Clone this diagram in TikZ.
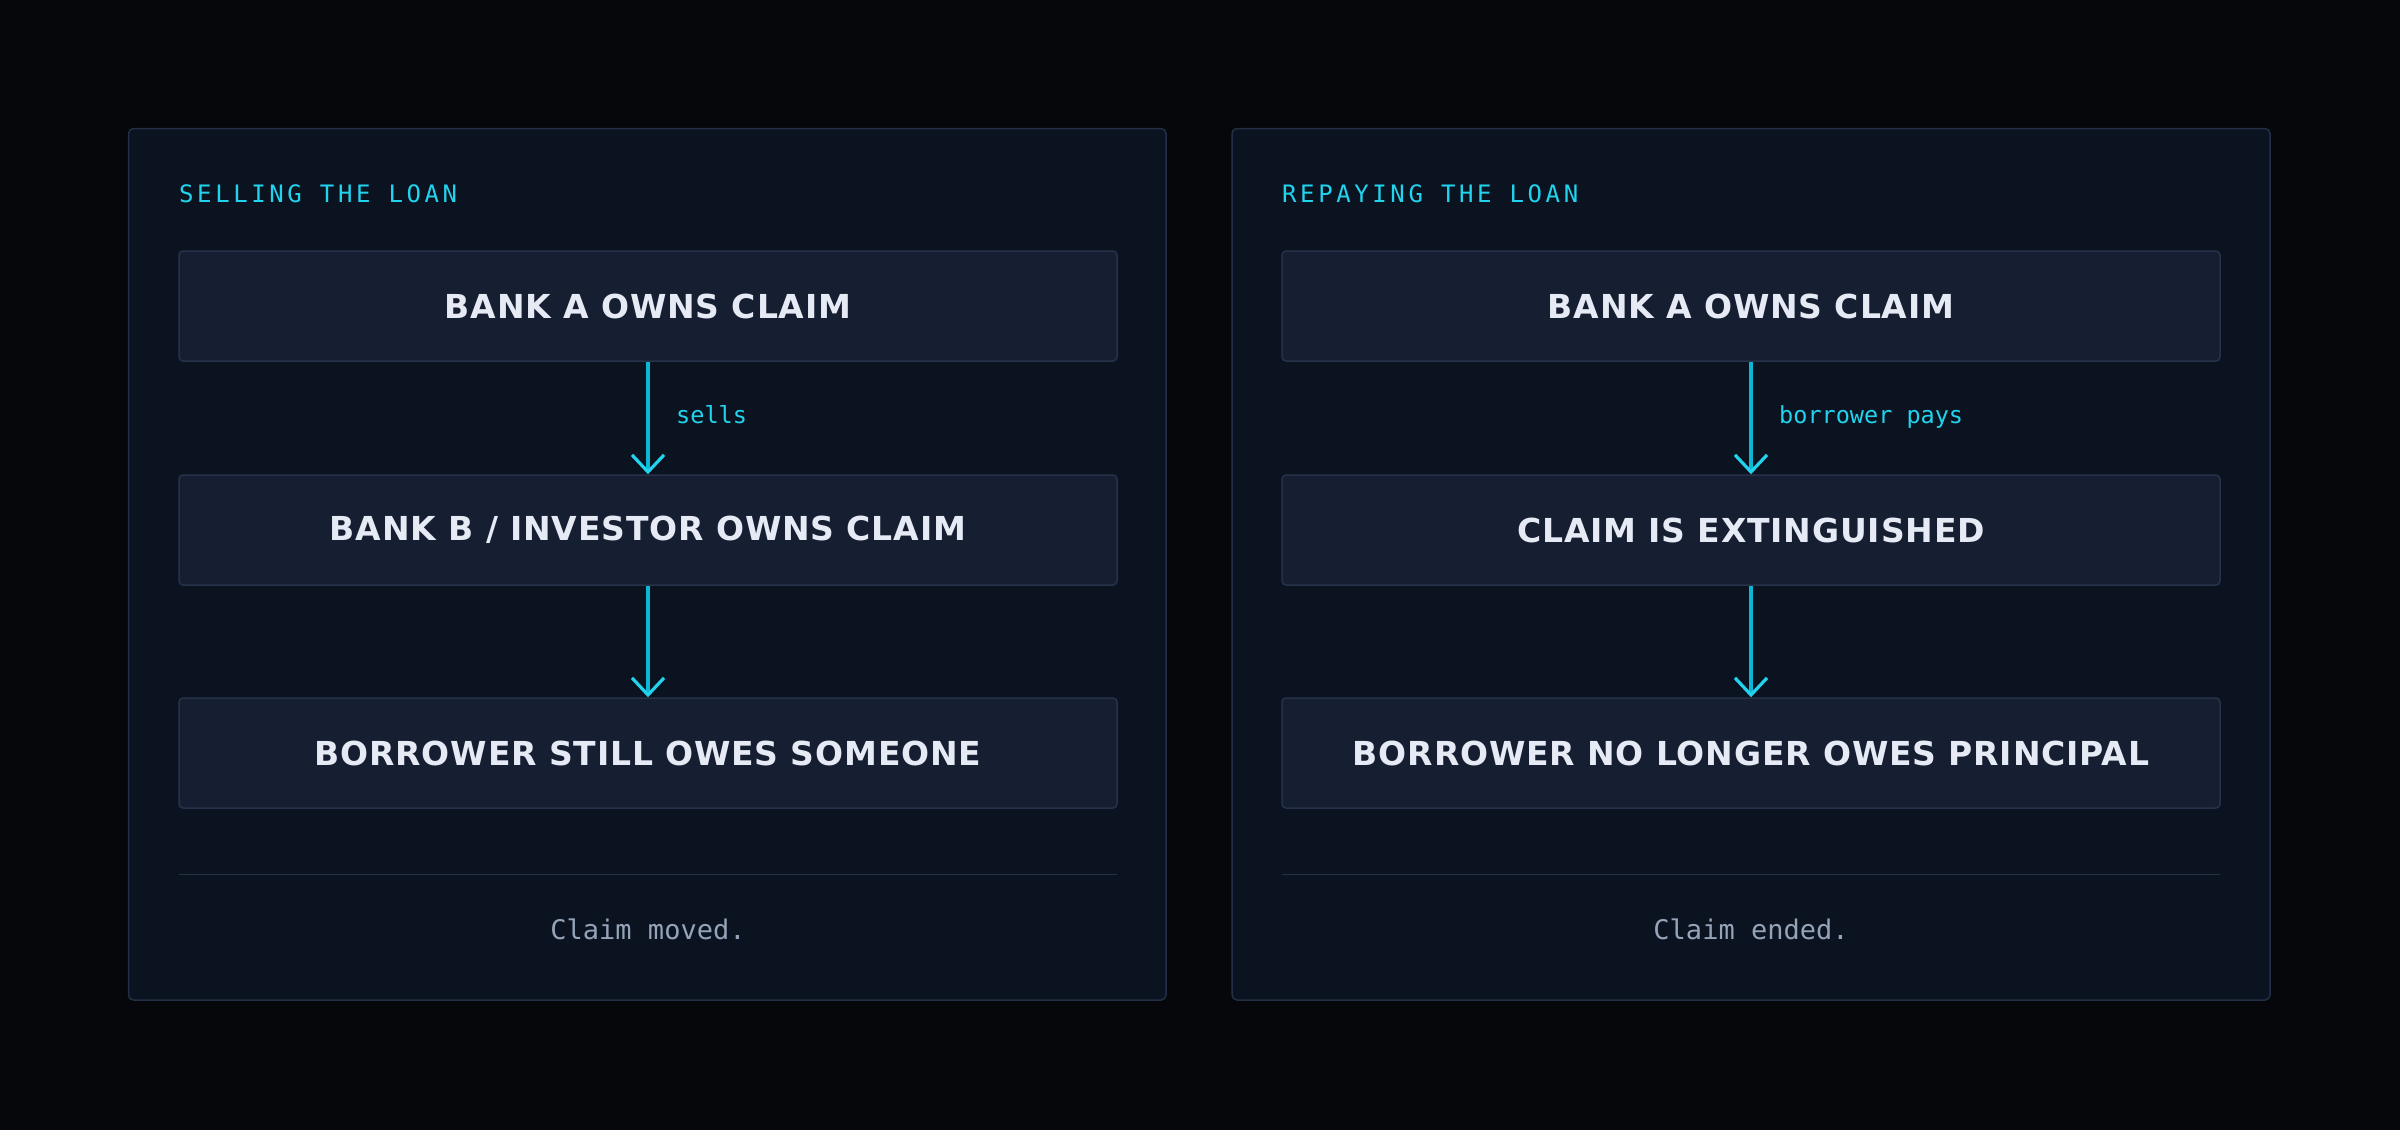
\documentclass[tikz,border=0pt]{standalone}
\usepackage{fontspec}
\usetikzlibrary{arrows.meta}
\setmainfont{DejaVu Sans}
\newfontfamily\boxfont[LetterSpace=2.5]{DejaVu Sans}
\newfontfamily\titlefont[LetterSpace=15]{DejaVu Sans Mono}
\newfontfamily\monofont{DejaVu Sans Mono}
\definecolor{bgc}{HTML}{05070B}
\definecolor{panelfill}{HTML}{0C1320}
\definecolor{panelline}{HTML}{232F44}
\definecolor{boxfill}{HTML}{161F31}
\definecolor{boxline}{HTML}{26324A}
\definecolor{cyanhi}{HTML}{22D3EE}
\definecolor{cyanlo}{HTML}{0AB8D6}
\definecolor{boxtext}{HTML}{E5EAF5}
\definecolor{foottext}{HTML}{94A3B8}
\definecolor{sepline}{HTML}{243043}
\tikzset{
  panel/.style={draw=panelline, fill=panelfill, line width=1.5pt, rounded corners=5pt},
  stepbox/.style={draw=boxline, fill=boxfill, line width=1.5pt, rounded corners=4pt,
    minimum width=938pt, minimum height=110pt, inner sep=0pt,
    font=\boxfont\bfseries\fontsize{33}{40}\selectfont, text=boxtext},
  paneltitle/.style={anchor=base west, inner sep=0pt, text=cyanhi,
    font=\titlefont\fontsize{24}{28}\selectfont},
  flowlabel/.style={anchor=base west, inner sep=0pt, text=cyanhi,
    font=\monofont\fontsize{23.5}{27}\selectfont},
  foot/.style={anchor=base, inner sep=0pt, text=foottext,
    font=\monofont\fontsize{27}{32}\selectfont},
  flow/.style={draw=cyanlo, line width=3.2pt,
    -{Straight Barb[color=cyanhi, length=17pt, width=32pt, line width=3.2pt]}},
  sep/.style={draw=sepline, line width=1.5pt}
}
\begin{document}
\begin{tikzpicture}[x=1pt,y=-1pt]
\fill[bgc] (0,0) rectangle (2400,1130);
\useasboundingbox (0,0) rectangle (2400,1130);
% panel 1
\path[panel] (128.5,128.5) rectangle (1166,1000);
\node[paneltitle] (t1) at (179,202) {SELLING THE LOAN};
\node[stepbox] (a1) at (648,306) {BANK A OWNS CLAIM};
\node[stepbox] (a2) at (648,530) {BANK B / INVESTOR OWNS CLAIM};
\node[stepbox] (a3) at (648,753) {BORROWER STILL OWES SOMEONE};
\draw[flow] (a1.south) -- (a2.north);
\draw[flow] (a2.south) -- (a3.north);
\node[flowlabel] (l1) at (676,423) {sells};
\coordinate (s1a) at (179,874.5);
\coordinate (s1b) at (1117,874.5);
\draw[sep] (s1a) -- (s1b);
\node[foot] (f1) at (648,939) {Claim moved.};
% panel 2
\path[panel] (1232,128.5) rectangle (2270,1000);
\node[paneltitle] (t2) at (1282,202) {REPAYING THE LOAN};
\node[stepbox] (b1) at (1751,306) {BANK A OWNS CLAIM};
\node[stepbox] (b2) at (1751,530) {CLAIM IS EXTINGUISHED};
\node[stepbox] (b3) at (1751,753) {BORROWER NO LONGER OWES PRINCIPAL};
\draw[flow] (b1.south) -- (b2.north);
\draw[flow] (b2.south) -- (b3.north);
\node[flowlabel] (l2) at (1779,423) {borrower pays};
\coordinate (s2a) at (1282,874.5);
\coordinate (s2b) at (2220,874.5);
\draw[sep] (s2a) -- (s2b);
\node[foot] (f2) at (1751,939) {Claim ended.};
\end{tikzpicture}
\end{document}
